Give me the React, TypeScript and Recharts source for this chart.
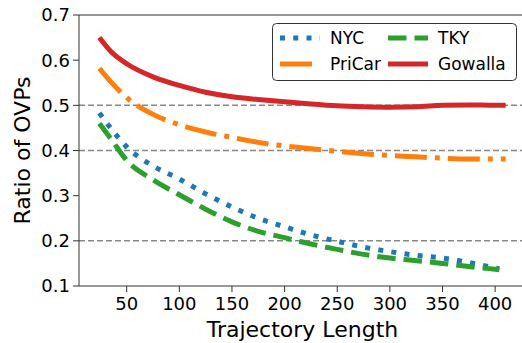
import { LineChart, Line, XAxis, YAxis, ReferenceLine } from 'recharts'

// trajectory lengths (x) and ratio of OVPs per dataset
const lengths = [24, 35, 50, 75, 100, 125, 150, 175, 200, 225, 250, 275, 300, 325, 350, 375, 400, 404, 410]
const nyc = [0.483, 0.449, 0.408, 0.366, 0.337, 0.304, 0.275, 0.250, 0.231, 0.213, 0.199, 0.186, 0.176, 0.168, 0.162, 0.152, 0.140, 0.138, null]
const tky = [0.460, 0.426, 0.378, 0.335, 0.302, 0.270, 0.242, 0.221, 0.207, 0.193, 0.181, 0.170, 0.162, 0.156, 0.150, 0.143, 0.137, 0.136, null]
const priCar = [0.582, 0.552, 0.517, 0.480, 0.457, 0.441, 0.429, 0.418, 0.410, 0.404, 0.398, 0.393, 0.389, 0.386, 0.383, 0.381, 0.381, 0.381, 0.381]
const gowalla = [0.650, 0.619, 0.592, 0.563, 0.544, 0.529, 0.519, 0.513, 0.508, 0.503, 0.499, 0.497, 0.496, 0.497, 0.500, 0.501, 0.500, 0.500, 0.500]

const xTicks = [50, 100, 150, 200, 250, 300, 350, 400]
const yTicks = [0.1, 0.2, 0.3, 0.4, 0.5, 0.6, 0.7]
const gridLines = [0.2, 0.4, 0.5]

const FONT = '"DejaVu Sans", sans-serif'
const LW = 5

const series = [
  { key: 'nyc', name: 'NYC', values: nyc, color: '#1f77b4', dash: `${LW} ${LW * 1.65}` },
  { key: 'tky', name: 'TKY', values: tky, color: '#2ca02c', dash: `${LW * 3.7} ${LW * 1.6}` },
  { key: 'priCar', name: 'PriCar', values: priCar, color: '#ff7f0e', dash: `${LW * 6.4} ${LW * 1.6} ${LW} ${LW * 1.6}` },
  { key: 'gowalla', name: 'Gowalla', values: gowalla, color: '#d62728', dash: undefined as string | undefined },
]

const data = lengths.map((len, i) => {
  const row: Record<string, number | null> = { len }
  for (const s of series) row[s.key] = s.values[i]
  return row
})

// legend laid out in two columns like the matplotlib one
const legendOrder = [
  { s: series[0], x: 8, y: 15 },
  { s: series[2], x: 8, y: 41 },
  { s: series[1], x: 116, y: 15 },
  { s: series[3], x: 116, y: 41 },
]

function ChartLegend() {
  return (
    <svg width={246} height={60} style={{ position: 'absolute', left: 272, top: 23 }}>
      <rect x={0.5} y={0.5} width={244} height={57} rx={4} fill="#fff" stroke="#333" strokeWidth={1} />
      {legendOrder.map(({ s, x, y }) => (
        <g key={s.key}>
          <line x1={x} x2={x + 40} y1={y} y2={y} stroke={s.color} strokeWidth={LW} strokeDasharray={s.dash} />
          <text x={x + 50} y={y} dy="0.36em" fontSize={17} fontFamily={FONT} fill="#000">{s.name}</text>
        </g>
      ))}
    </svg>
  )
}

export default function App() {
  return (
    <div style={{ position: 'absolute', left: 0, top: 0, width: 522, height: 343, overflow: 'hidden', background: '#fff' }}>
      <LineChart width={530} height={343} data={data} margin={{ top: 15, right: 4, bottom: 0, left: 0 }}>
        <XAxis
          dataKey="len"
          type="number"
          domain={[4.7, 429.3]}
          ticks={xTicks}
          allowDataOverflow
          height={57}
          stroke="#333"
          tickSize={6}
          tickMargin={5}
          tick={{ fontSize: 18, fill: '#000', fontFamily: FONT }}
          label={{ value: 'Trajectory Length', position: 'insideBottom', offset: 6, fontSize: 22, fill: '#000', fontFamily: FONT }}
        />
        <YAxis
          type="number"
          domain={[0.1, 0.7]}
          ticks={yTicks}
          allowDataOverflow
          width={79}
          stroke="#333"
          tickSize={6}
          tickMargin={3}
          tickFormatter={(v: number) => v.toFixed(1)}
          tick={{ fontSize: 18, fill: '#000', fontFamily: FONT }}
          label={{ value: 'Ratio of OVPs', angle: -90, position: 'insideLeft', offset: 22, fontSize: 22, fill: '#000', fontFamily: FONT, style: { textAnchor: 'middle' } }}
        />
        <ReferenceLine y={0.7} stroke="#333" strokeWidth={1} />
        {gridLines.map(g => (
          <ReferenceLine key={g} y={g} stroke="#888" strokeWidth={1.5} strokeDasharray="6 3" />
        ))}
        {series.map(s => (
          <Line
            key={s.key}
            dataKey={s.key}
            name={s.name}
            type="monotone"
            stroke={s.color}
            strokeWidth={LW}
            strokeDasharray={s.dash}
            strokeLinecap="butt"
            dot={false}
            connectNulls={false}
            isAnimationActive={false}
          />
        ))}
      </LineChart>
      <ChartLegend />
    </div>
  )
}
